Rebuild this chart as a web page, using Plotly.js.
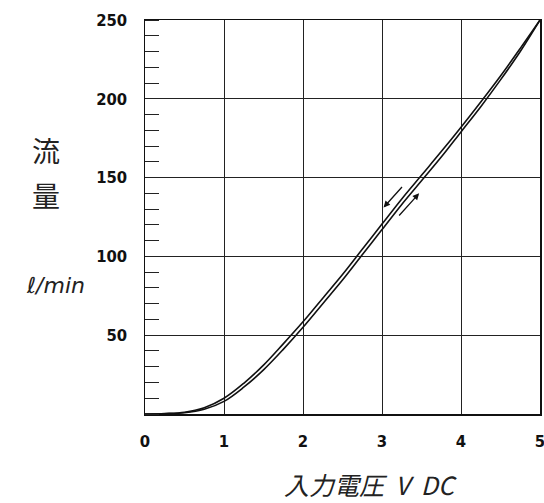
<!DOCTYPE html>
<html>
<head>
<meta charset="utf-8">
<script src="https://cdn.plot.ly/plotly-3.0.1.min.js"></script>
<style>html,body{margin:0;padding:0;background:#fff}#c{width:544px;height:503px}</style>
</head>
<body>
<div id="c"></div>
<script>
const voltage = [0, 0.25, 0.5, 0.75, 1, 1.25, 1.5, 1.75, 2, 2.25, 2.5, 2.75, 3, 3.25, 3.5, 3.75, 4, 4.25, 4.5, 4.75, 5];
const flowRising = [0, 0.2, 0.8, 3, 8, 17, 28, 41, 55, 70, 85, 101, 117, 133, 148, 163, 179, 195, 212, 230, 250];
const flowFalling = [0, 0.3, 1.1, 4, 10, 19.5, 31, 44.5, 58.5, 73.5, 88.5, 104.5, 120.5, 136.5, 151.5, 166.5, 182, 198, 214.5, 232, 250];
const xTicks = [0, 1, 2, 3, 4, 5];
const yTicks = [50, 100, 150, 200, 250];

const tickFont = {family: 'DejaVu Sans Condensed, DejaVu Sans', size: 16.5, color: '#111', weight: 'bold'};
const lineStyle = {color: '#111', width: 1.6, shape: 'spline'};

const traces = [
  {x: voltage, y: flowRising, mode: 'lines', line: lineStyle, hoverinfo: 'skip'},
  {x: voltage, y: flowFalling, mode: 'lines', line: lineStyle, hoverinfo: 'skip'}
];

const layout = {
  width: 544, height: 503,
  margin: {l: 145, r: 4, t: 20, b: 89},
  paper_bgcolor: '#fff', plot_bgcolor: '#fff',
  showlegend: false,
  xaxis: {
    range: [0, 5], tickvals: xTicks, ticktext: xTicks.map(String),
    showgrid: true, gridcolor: '#222', gridwidth: 1,
    showline: true, linecolor: '#111', linewidth: 1.5, mirror: true,
    ticks: '', ticklabelstandoff: 12, ticklabeloverflow: 'allow', tickfont: tickFont, zeroline: false
  },
  yaxis: {
    range: [0, 250], tickvals: yTicks, ticktext: yTicks.map(String),
    showgrid: true, gridcolor: '#222', gridwidth: 1,
    showline: true, linecolor: '#111', linewidth: 1.5, mirror: true,
    ticks: '', ticklabelstandoff: 13, tickfont: tickFont, zeroline: false,
    minor: {dtick: 10, tick0: 0, ticks: 'inside', ticklen: 14, tickcolor: '#222', tickwidth: 1, showgrid: false}
  },
  annotations: [
    {x: 3.02, y: 131, ax: 3.27, ay: 145, xref: 'x', yref: 'y', axref: 'x', ayref: 'y', showarrow: true, arrowhead: 2, arrowsize: 1, arrowwidth: 1.3, arrowcolor: '#111', text: ''},
    {x: 3.47, y: 140, ax: 3.2, ay: 125, xref: 'x', yref: 'y', axref: 'x', ayref: 'y', showarrow: true, arrowhead: 2, arrowsize: 1, arrowwidth: 1.3, arrowcolor: '#111', text: ''},
    {x: 46, y: 150, text: '流', showarrow: false, font: {family: 'Noto Sans CJK JP', size: 28, color: '#222'}, xanchor: 'center', yanchor: 'middle'},
    {x: 46, y: 195, text: '量', showarrow: false, font: {family: 'Noto Sans CJK JP', size: 28, color: '#222'}, xanchor: 'center', yanchor: 'middle'},
    {x: 55, y: 285, text: '<i>ℓ/min</i>', showarrow: false, font: {family: 'DejaVu Sans', size: 22, color: '#222'}, xanchor: 'center', yanchor: 'middle'},
    {x: 370, y: 484, text: '<i>入力電圧  V  DC</i>', showarrow: false, font: {family: 'Noto Sans CJK JP', size: 25, color: '#222'}, xanchor: 'center', yanchor: 'middle'}
  ]
};
// convert pixel-positioned label annotations to paper coordinates
const pw = 544 - 145 - 4, ph = 503 - 20 - 89;
layout.annotations.forEach((a, i) => {
  if (i >= 2) {
    a.xref = 'paper'; a.yref = 'paper';
    a.x = (a.x - 145) / pw;
    a.y = (503 - 89 - a.y) / ph;
  }
});

Plotly.newPlot('c', traces, layout, {staticPlot: true});
</script>
</body>
</html>
